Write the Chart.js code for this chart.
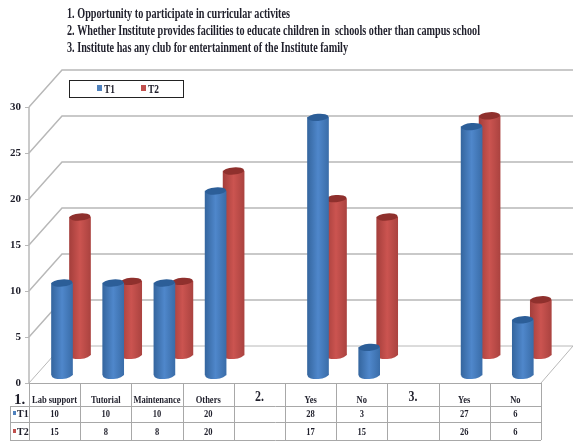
<!DOCTYPE html>
<html lang="en">

<head>
  <meta charset="UTF-8">
  <title>Institute facilities T1 / T2</title>
  <script src="https://cdn.jsdelivr.net/npm/chart.js"></script>
  <style>
    body {
      margin: 0;
      background-color: #fff;
    }

    canvas {
      display: block;
    }
  </style>
</head>

<body>
  <canvas id="facilityChart" width="573" height="441"></canvas>

  <script>
    const categories = ['Lab support', 'Tutorial', 'Maintenance', 'Others', '2.', 'Yes', 'No', '3.', 'Yes', 'No'];
    const t1Values = [10, 10, 10, 20, null, 28, 3, null, 27, 6];
    const t2Values = [15, 8, 8, 20, null, 17, 15, null, 26, 6];
    const tickValues = [0, 5, 10, 15, 20, 25, 30];
    const headingLines = [
      '1. Opportunity to participate in curricular activites',
      '2. Whether Institute provides facilities to educate children in  schools other than campus school',
      '3. Institute has any club for entertainment of the Institute family'
    ];

    const SERIF = '"Liberation Serif", serif';
    const GRID = '#b8b8b8';
    const TABLE_LINE = '#a8a8a8';
    const TEXT = '#1f1f2b';

    // plot box: front floor edge at y=383, back wall top at y=70
    const AREA = { left: 29, right: 541, top: 70, bottom: 383 };
    const WALL_LEFT = 62;
    const WALL_RIGHT = 573;
    const UNIT = 9.2;     // pixels per value unit
    const COLUMN = (AREA.right - AREA.left) / categories.length;
    const SPAN = (AREA.bottom - AREA.top) / UNIT;

    // each depth layer is the same plot with its zero lifted by some pixels
    function depthScale(lift) {
      return { display: false, min: -lift / UNIT, max: SPAN - lift / UNIT };
    }

    // hidden x scale with category 0 centred at the given pixel
    function columnScale(centre) {
      const min = (AREA.left - centre) / COLUMN;
      return { type: 'linear', display: false, offset: false, min: min, max: min + categories.length };
    }

    function cylinderFill(context, stops, scaleId) {
      const x = context.chart.scales[scaleId].getPixelForValue(context.dataIndex);
      // scales are not laid out yet on the first pass
      if (!Number.isFinite(x)) return stops[1];
      const g = context.chart.ctx.createLinearGradient(x - 10.5, 0, x + 10.5, 0);
      g.addColorStop(0, stops[0]);
      g.addColorStop(0.5, stops[1]);
      g.addColorStop(1, stops[2]);
      return g;
    }

    const BLUE = ['#35669f', '#4f87cb', '#3a6da9'];
    const RED = ['#a53f3c', '#cb5450', '#ab4340'];

    const datasets = [
      {
        label: 'T1',
        data: t1Values.map((v, i) => ({ x: i, y: v })),
        xAxisID: 'xT1',
        yAxisID: 'yT1',
        clip: false,
        grouped: false,
        barThickness: 21,
        backgroundColor: ctx => cylinderFill(ctx, BLUE, 'xT1'),
        capColor: '#2c5e98',
        keyColor: '#4f81bd'
      },
      {
        label: 'T2',
        data: t2Values.map((v, i) => ({ x: i, y: v })),
        xAxisID: 'xT2',
        yAxisID: 'yT2',
        clip: false,
        grouped: false,
        barThickness: 21,
        backgroundColor: ctx => cylinderFill(ctx, RED, 'xT2'),
        capColor: '#8f302d',
        keyColor: '#c0504d'
      }
    ];

    function line(ctx, points, color, width) {
      ctx.beginPath();
      ctx.moveTo(points[0][0], points[0][1]);
      points.slice(1).forEach(p => ctx.lineTo(p[0], p[1]));
      ctx.strokeStyle = color;
      ctx.lineWidth = width;
      ctx.stroke();
    }

    // narrow text, squeezed to the given share of its natural width
    function squeezed(ctx, text, x, y, share) {
      ctx.fillText(text, x, y, ctx.measureText(text).width * share);
    }

    // wall grid lines and the floor, behind the cylinders
    const wallPlugin = {
      id: 'wall',
      beforeDatasetsDraw(chart) {
        const ctx = chart.ctx;
        const front = chart.scales.y;
        const back = chart.scales.yWall;
        ctx.save();
        tickValues.forEach(v => {
          const fy = front.getPixelForValue(v);
          const by = back.getPixelForValue(v);
          line(ctx, [[AREA.left, fy], [WALL_LEFT, by], [WALL_RIGHT, by]], GRID, v === 0 ? 1 : 1.5);
        });
        line(ctx, [[AREA.left, front.getPixelForValue(30)], [AREA.left, AREA.bottom]], GRID, 1.5);
        line(ctx, [[AREA.right, AREA.bottom], [WALL_RIGHT, back.getPixelForValue(0)]], GRID, 1);
        ctx.restore();
      }
    };

    // rounded foot and darker top of each cylinder
    const capPlugin = {
      id: 'caps',
      afterDatasetDraw(chart, args) {
        const ctx = chart.ctx;
        const set = chart.data.datasets[args.index];
        const values = args.index === 0 ? t1Values : t2Values;
        ctx.save();
        args.meta.data.forEach((bar, i) => {
          if (values[i] === null) return;
          ctx.beginPath();
          ctx.ellipse(bar.x, bar.base, 10.5, 4, -0.08, 0, Math.PI * 2);
          ctx.fillStyle = bar.options.backgroundColor;
          ctx.fill();
          ctx.beginPath();
          ctx.ellipse(bar.x, bar.y, 10.5, 3.6, -0.08, 0, Math.PI * 2);
          ctx.fillStyle = set.capColor;
          ctx.fill();
        });
        ctx.restore();
      }
    };

    // heading lines, legend box and the data table under the plot
    const textPlugin = {
      id: 'texts',
      afterDraw(chart) {
        const ctx = chart.ctx;
        ctx.save();
        ctx.fillStyle = TEXT;
        ctx.textBaseline = 'alphabetic';
        ctx.font = 'bold 14px ' + SERIF;
        ctx.textAlign = 'left';
        ctx.fillText(headingLines[0], 67, 18, 223);
        ctx.fillText(headingLines[1], 67, 35, 413);
        ctx.fillText(headingLines[2], 67, 52, 281);

        // legend
        ctx.fillStyle = '#fff';
        ctx.fillRect(69.5, 80.5, 114, 17);
        ctx.strokeStyle = '#222';
        ctx.lineWidth = 1;
        ctx.strokeRect(69.5, 80.5, 114, 17);
        chart.data.datasets.forEach((set, i) => {
          const x = 97 + i * 44;
          ctx.fillStyle = set.keyColor;
          ctx.fillRect(x, 85, 5, 6);
          ctx.fillStyle = TEXT;
          ctx.font = 'bold 12px ' + SERIF;
          ctx.fillText(set.label, x + 7, 93, 11);
        });

        // table rules
        const rows = [AREA.bottom, 406, 422, 440];
        rows.forEach((y, i) => line(ctx, [[i === 0 ? AREA.left : 10, y + 0.5], [AREA.right, y + 0.5]], TABLE_LINE, 1));
        line(ctx, [[10.5, 406], [10.5, 440]], TABLE_LINE, 1);
        for (let i = 0; i <= categories.length; i++) {
          const x = Math.round(AREA.left + i * COLUMN) + 0.5;
          line(ctx, [[x, AREA.bottom], [x, 440]], TABLE_LINE, 1);
        }

        // table text
        ctx.textAlign = 'center';
        ctx.fillStyle = TEXT;
        const columns = chart.scales.x;
        categories.forEach((name, i) => {
          const x = columns.getPixelForValue(i);
          const sectionMark = /^\d\.$/.test(name);
          ctx.font = (sectionMark ? 'bold 14px ' : 'bold 10px ') + SERIF;
          squeezed(ctx, name, x, sectionMark ? 401 : 403, 0.85);
          ctx.font = 'bold 10px ' + SERIF;
          if (t1Values[i] !== null) squeezed(ctx, String(t1Values[i]), x, 417, 0.85);
          if (t2Values[i] !== null) squeezed(ctx, String(t2Values[i]), x, 435, 0.85);
        });
        ctx.textAlign = 'left';
        ctx.font = 'bold 15px ' + SERIF;
        ctx.fillText('1.', 14, 404);
        chart.data.datasets.forEach((set, i) => {
          const y = i === 0 ? 417 : 435;
          ctx.fillStyle = set.keyColor;
          ctx.fillRect(13, y - 6, 3, 4);
          ctx.fillStyle = TEXT;
          ctx.font = 'bold 10px ' + SERIF;
          ctx.fillText(set.label, 17, y);
        });
        ctx.restore();
      }
    };

    new Chart(document.getElementById('facilityChart'), {
      type: 'bar',
      data: { datasets: datasets },
      plugins: [wallPlugin, capPlugin, textPlugin],
      options: {
        responsive: false,
        animation: false,
        layout: { padding: { top: AREA.top, right: 573 - AREA.right, bottom: 441 - AREA.bottom, left: 0 } },
        plugins: {
          legend: { display: false },
          tooltip: { enabled: false }
        },
        scales: {
          x: { type: 'category', labels: categories, offset: true, display: false },
          xT1: columnScale(62),
          xT2: columnScale(80),
          y: {
            min: 0,
            max: SPAN,
            afterFit(scale) { scale.width = AREA.left; },
            grid: { drawOnChartArea: false, color: GRID, tickLength: 4 },
            border: { display: false },
            ticks: {
              stepSize: 5,
              includeBounds: false,
              padding: 4,
              color: TEXT,
              font: { family: SERIF, size: 11, weight: 'bold' }
            }
          },
          yT1: depthScale(8),
          yT2: depthScale(28),
          yWall: depthScale(37)
        }
      }
    });
  </script>
</body>

</html>
